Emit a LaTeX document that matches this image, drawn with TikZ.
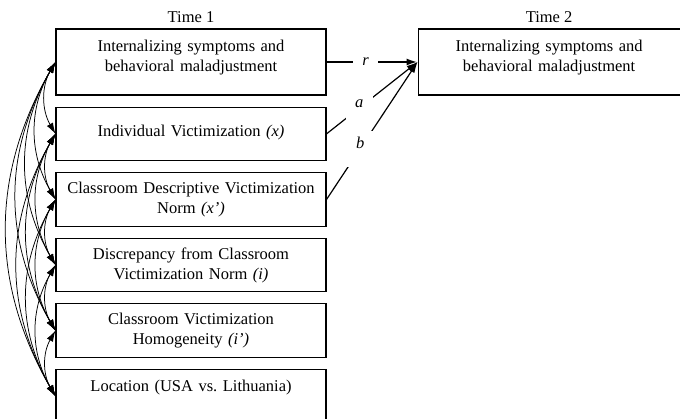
\documentclass[tikz,border=0pt]{standalone}
\usepackage{fontspec}
\setmainfont{Liberation Serif}
\usetikzlibrary{shapes,arrows.meta,positioning}

\tikzset{
  varbox/.style={draw, line width=1.1pt, minimum width=270pt, minimum height=53.5pt,
    text width=262pt, align=center, inner sep=0pt},
  corr/.style={<->, line width=0.75pt},
  effect/.style={->, line width=1.2pt},
  lbl/.style={fill=white, inner xsep=9.5pt, inner ysep=6pt},
  lblup/.style={lbl, text height=10pt, text depth=10pt, inner ysep=8pt},
  timelbl/.style={inner sep=0pt}
}

\begin{document}
\begin{tikzpicture}[x=1pt,y=1pt,>={Latex[length=11pt,width=7pt]},
    font=\fontsize{16.5}{20}\selectfont]
  \useasboundingbox (0,0) rectangle (680,419);
  % time 1 variables
  \node[varbox, minimum height=66pt] (b1) at (191,357)
    {Internalizing symptoms and\\ behavioral maladjustment\\[-8pt]\mbox{}};
  \node[varbox, below=11pt of b1] (b2)
    {Individual Victimization \textit{(x)}\\[-14pt]\mbox{}};
  \node[varbox, below=11pt of b2] (b3)
    {Classroom Descriptive Victimization\\ Norm \textit{(x’)}};
  \node[varbox, below=11pt of b3] (b4)
    {Discrepancy from Classroom\\ Victimization Norm \textit{(i)}};
  \node[varbox, below=11pt of b4] (b5)
    {Classroom Victimization\\ Homogeneity \textit{(i’)}};
  \node[varbox, below=11pt of b5] (b6)
    {Location (USA vs.\ Lithuania)\\ \mbox{}};
  % time 2 outcome
  \node[varbox, minimum width=260pt, minimum height=66pt, right=91pt of b1] (t2)
    {Internalizing symptoms and\\ behavioral maladjustment\\[-8pt]\mbox{}};
  \node[timelbl, above=6pt of b1] (time1) {Time 1};
  \node[timelbl, above=6pt of t2] (time2) {Time 2};
  % paths
  \draw[effect, line width=2pt] (b1.east) -- node[lbl, pos=.43] {\textit{r}} (t2.west);
  \draw[effect] (b2.east) -- node[lblup, pos=.36] {\textit{a}} (t2.west);
  \draw[effect] (b3.east) -- node[lblup, pos=.37] {\textit{b}} (t2.west);
  % covariances
  \foreach \i/\j in {1/2,1/3,1/4,1/5,1/6,2/3,2/4,2/5,2/6,3/4,3/5,3/6,4/5,4/6,5/6}
    \draw[corr] (b\i.west) to[bend right=30] (b\j.west);
\end{tikzpicture}
\end{document}
